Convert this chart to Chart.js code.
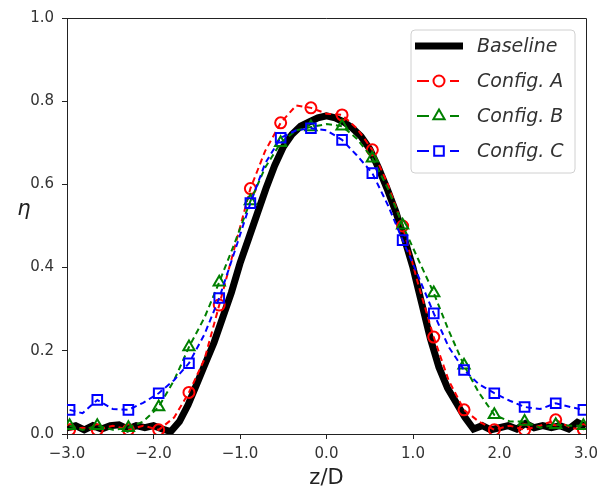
<!DOCTYPE html>
<html>
<head>
<meta charset="utf-8">
<script src="https://cdn.jsdelivr.net/npm/chart.js@4.4.0/dist/chart.umd.min.js"></script>
<style>
  body { margin: 0; background: #fff; }
</style>
</head>
<body>
<canvas id="chart" width="608" height="491"></canvas>
<script>
// Baseline: dense profile every 0.1 z/D
const zBase = [
  -3.0, -2.9, -2.8, -2.7, -2.6, -2.5, -2.4, -2.3, -2.2, -2.1,
  -2.0, -1.9, -1.8, -1.7, -1.6, -1.5, -1.4, -1.3, -1.2, -1.1,
  -1.0, -0.9, -0.8, -0.7, -0.6, -0.5, -0.4, -0.3, -0.2, -0.1,
  0.0, 0.1, 0.2, 0.3, 0.4, 0.5, 0.6, 0.7, 0.8, 0.9,
  1.0, 1.1, 1.2, 1.3, 1.4, 1.5, 1.6, 1.7, 1.8, 1.9,
  2.0, 2.1, 2.2, 2.3, 2.4, 2.5, 2.6, 2.7, 2.8, 2.9, 3.0
];
const etaBase = [
  0.015, 0.02, 0.01, 0.02, 0.012, 0.02, 0.022, 0.012, 0.02, 0.015,
  0.02, 0.012, 0.006, 0.03, 0.07, 0.12, 0.17, 0.22, 0.28, 0.34,
  0.41, 0.47, 0.53, 0.59, 0.645, 0.69, 0.72, 0.74, 0.75, 0.76,
  0.765, 0.76, 0.75, 0.735, 0.715, 0.685, 0.64, 0.59, 0.535, 0.47,
  0.40, 0.315, 0.23, 0.16, 0.11, 0.075, 0.04, 0.012, 0.02, 0.01,
  0.015, 0.02, 0.012, 0.025, 0.015, 0.02, 0.015, 0.02, 0.012, 0.028, 0.018
];

// Configs: markers on every other point
const zConfig = [
  -2.97, -2.82, -2.65, -2.47, -2.29, -2.12, -1.94, -1.76, -1.59, -1.41,
  -1.24, -1.06, -0.88, -0.71, -0.53, -0.35, -0.18, 0.00, 0.18, 0.35,
  0.53, 0.71, 0.88, 1.06, 1.24, 1.41, 1.59, 1.76, 1.94, 2.12,
  2.29, 2.47, 2.65, 2.82, 2.97
];
const etaA = [
  0.01, 0.015, 0.01, 0.02, 0.01, 0.02, 0.01, 0.04, 0.10, 0.18,
  0.31, 0.45, 0.59, 0.68, 0.748, 0.79, 0.784, 0.77, 0.767, 0.735,
  0.683, 0.60, 0.50, 0.36, 0.233, 0.13, 0.058, 0.03, 0.01, 0.02,
  0.01, 0.02, 0.034, 0.015, 0.01
];
const etaB = [
  0.02, 0.01, 0.02, 0.01, 0.015, 0.03, 0.065, 0.13, 0.209, 0.28,
  0.365, 0.46, 0.56, 0.64, 0.70, 0.73, 0.738, 0.745, 0.74, 0.71,
  0.663, 0.59, 0.502, 0.42, 0.339, 0.25, 0.165, 0.10, 0.046, 0.03,
  0.03, 0.015, 0.022, 0.02, 0.02
];
const etaC = [
  0.058, 0.05, 0.082, 0.06, 0.058, 0.075, 0.098, 0.13, 0.17, 0.24,
  0.327, 0.44, 0.555, 0.65, 0.712, 0.73, 0.735, 0.73, 0.707, 0.67,
  0.627, 0.55, 0.466, 0.38, 0.29, 0.21, 0.154, 0.12, 0.098, 0.08,
  0.065, 0.06, 0.074, 0.065, 0.058
];

const xTicks = [-3, -2, -1, 0, 1, 2, 3];
const yTicks = [0, 0.2, 0.4, 0.6, 0.8, 1.0];

const seriesNames = ['Baseline', 'Config. A', 'Config. B', 'Config. C'];
const seriesColors = ['#000000', '#ff0000', '#008000', '#0000ff'];
const seriesMarkers = [null, 'circle', 'triangle', 'rect'];
const markerSizes = [0, 5.5, 6.5, 6.8];

function toPoints(xs, ys) {
  return xs.map((x, i) => ({ x: x, y: ys[i] }));
}

function configDataset(i, ys) {
  return {
    label: seriesNames[i],
    data: toPoints(zConfig, ys),
    borderColor: seriesColors[i],
    borderWidth: 2,
    borderDash: [6, 4],
    pointStyle: seriesMarkers[i],
    pointRadius: ctx => (ctx.dataIndex % 2 === 0 ? markerSizes[i] : 0),
    pointBorderColor: seriesColors[i],
    pointBackgroundColor: 'rgba(0,0,0,0)',
    pointBorderWidth: 2,
    order: 4 - i
  };
}

const textColor = '#333';
const axisColor = '#222';

// frame, eta label and matplotlib-like legend
const decorPlugin = {
  id: 'decor',
  afterDraw(chart) {
    const ctx = chart.ctx;
    const a = chart.chartArea;
    ctx.save();
    ctx.strokeStyle = axisColor;
    ctx.lineWidth = 1;
    ctx.beginPath();
    ctx.moveTo(a.left, a.top + 0.5);
    ctx.lineTo(a.right + 0.5, a.top + 0.5);
    ctx.lineTo(a.right + 0.5, a.bottom);
    ctx.stroke();

    // y label, not rotated
    ctx.fillStyle = '#222';
    ctx.font = 'italic 21px "DejaVu Sans"';
    ctx.textAlign = 'center';
    ctx.textBaseline = 'middle';
    ctx.fillText('\u03b7', 24, 210);

    // legend box
    const bx = 411, by = 30, bw = 164, bh = 143, r = 4;
    ctx.beginPath();
    ctx.moveTo(bx + r, by);
    ctx.arcTo(bx + bw, by, bx + bw, by + bh, r);
    ctx.arcTo(bx + bw, by + bh, bx, by + bh, r);
    ctx.arcTo(bx, by + bh, bx, by, r);
    ctx.arcTo(bx, by, bx + bw, by, r);
    ctx.closePath();
    ctx.fillStyle = 'rgba(255,255,255,0.85)';
    ctx.fill();
    ctx.strokeStyle = '#d0d0d0';
    ctx.stroke();

    const rows = [46, 81, 116, 151];
    rows.forEach((y, i) => {
      ctx.strokeStyle = seriesColors[i];
      if (i === 0) {
        ctx.lineWidth = 7;
        ctx.beginPath();
        ctx.moveTo(415, y);
        ctx.lineTo(463, y);
        ctx.stroke();
      } else {
        ctx.lineWidth = 2;
        ctx.beginPath();
        ctx.moveTo(417, y);
        ctx.lineTo(429, y);
        ctx.moveTo(450, y);
        ctx.lineTo(459, y);
        ctx.stroke();
        ctx.fillStyle = 'rgba(0,0,0,0)';
        Chart.helpers.drawPoint(ctx, {
          pointStyle: seriesMarkers[i],
          radius: markerSizes[i],
          rotation: 0,
          borderWidth: 2
        }, 439, y);
      }
      ctx.fillStyle = textColor;
      ctx.font = 'italic 19px "DejaVu Sans"';
      ctx.textAlign = 'left';
      ctx.textBaseline = 'middle';
      ctx.fillText(seriesNames[i], 477, y + 1);
    });
    ctx.restore();
  }
};

new Chart(document.getElementById('chart'), {
  type: 'line',
  data: {
    datasets: [
      {
        label: seriesNames[0],
        data: toPoints(zBase, etaBase),
        borderColor: seriesColors[0],
        borderWidth: 7,
        pointRadius: 0,
        order: 5
      },
      configDataset(1, etaA),
      configDataset(2, etaB),
      configDataset(3, etaC)
    ]
  },
  options: {
    responsive: false,
    devicePixelRatio: 1,
    animation: false,
    events: [],
    layout: { padding: { top: 18, right: 22, left: 0, bottom: 0 } },
    plugins: {
      legend: { display: false },
      tooltip: { enabled: false }
    },
    scales: {
      x: {
        type: 'linear',
        min: -3,
        max: 3,
        afterBuildTicks: scale => { scale.ticks = xTicks.map(v => ({ value: v })); },
        afterFit: scale => { scale.height = 57; },
        ticks: {
          color: textColor,
          font: { family: 'DejaVu Sans', size: 15 },
          padding: 6,
          maxRotation: 0,
          callback: v => (v < 0 ? '\u2212' : '') + Math.abs(v).toFixed(1)
        },
        grid: { drawOnChartArea: false, drawTicks: true, tickLength: 5, color: axisColor },
        border: { color: axisColor, width: 1 },
        title: {
          display: true,
          text: 'z/D',
          color: '#222',
          font: { family: 'DejaVu Sans', size: 21 },
          padding: { top: 0, bottom: 0 }
        }
      },
      y: {
        min: 0,
        max: 1,
        afterBuildTicks: scale => { scale.ticks = yTicks.map(v => ({ value: v })); },
        afterFit: scale => { scale.width = 67; },
        ticks: {
          color: textColor,
          font: { family: 'DejaVu Sans', size: 15 },
          padding: 8,
          callback: v => v.toFixed(1)
        },
        grid: { drawOnChartArea: false, drawTicks: true, tickLength: 5, color: axisColor },
        border: { color: axisColor, width: 1 }
      }
    }
  },
  plugins: [decorPlugin]
});
</script>
</body>
</html>
